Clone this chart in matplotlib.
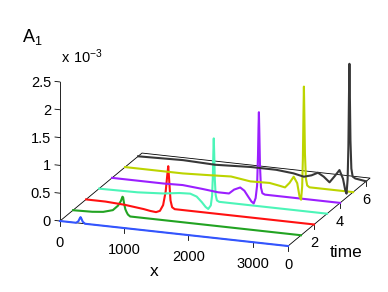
import matplotlib
matplotlib.use("Agg")
import matplotlib.pyplot as plt
import numpy as np
from mpl_toolkits.mplot3d import proj3d

plt.rcParams['font.family'] = ['Liberation Sans', 'DejaVu Sans']

# amplitude A1 is given in units of 1e-3
x_max = 3550
t_max = 6.3
z_max = 2.5

times = [0, 1, 2, 3, 4, 5, 6]
colors = ['#3355ff', '#22a322', '#ff1111', '#4cf5b8', '#9b1fff', '#bcd400', '#383838']

x_t0 = [0, 250, 285, 305, 320, 335, 355, 390, 3550]
a_t0 = [0, 0, 0.03, 0.08, 0.11, 0.08, 0.03, 0, 0]

x_t1 = [0, 300, 470, 620, 700, 745, 770, 780, 795, 815, 835, 855, 890, 3550]
a_t1 = [0, 0.01, 0.03, 0.08, 0.17, 0.26, 0.34, 0.33, 0.22, 0.12, 0.07, 0.03, 0, 0]

x_t2 = [0, 300, 600, 900, 1000, 1090, 1150, 1200, 1240, 1265, 1280, 1295, 1315, 1340, 1380, 3550]
a_t2 = [0, 0, -0.02, -0.06, -0.08, -0.09, -0.06, 0.05, 0.3, 0.6, 0.76, 0.5, 0.15, 0.03, 0, 0]

x_t3 = [0, 600, 1000, 1250, 1420, 1520, 1600, 1660, 1700, 1740, 1760, 1772, 1780, 1786, 1793, 1802,
        1815, 1835, 1870, 3550]
a_t3 = [0, 0.01, 0.04, 0.08, 0.09, 0.05, -0.04, -0.12, -0.15, -0.08, 0.1, 0.45, 0.9, 1.13, 0.85, 0.4,
        0.12, 0.02, 0, 0]

x_t4 = [0, 800, 1100, 1400, 1650, 1820, 1900, 1995, 2060, 2120, 2170, 2205, 2235, 2258, 2272, 2280,
        2286, 2293, 2303, 2318, 2340, 2380, 3550]
a_t4 = [0, 0, 0.01, -0.02, -0.05, -0.05, 0.03, 0.08, 0.03, -0.07, -0.15, -0.18, -0.08, 0.15, 0.7, 1.2,
        1.47, 1.1, 0.5, 0.12, 0.02, 0, 0]

x_t5 = [0, 900, 1300, 1650, 1950, 2250, 2400, 2490, 2560, 2625, 2680, 2715, 2740, 2757, 2768, 2777,
        2784, 2791, 2800, 2815, 2835, 2870, 3550]
a_t5 = [0, 0, 0.02, 0.04, -0.01, 0, -0.03, -0.05, 0.04, 0.16, 0.05, -0.18, -0.24, 0, 0.5, 1.3,
        1.8, 1.3, 0.6, 0.15, 0.03, 0, 0]

x_t6 = [0, 700, 1200, 1750, 2150, 2420, 2580, 2700, 2800, 2890, 2980, 3060, 3135, 3190, 3225, 3245,
        3262, 3274, 3283, 3290, 3297, 3306, 3320, 3340, 3380, 3550]
a_t6 = [0, 0.02, 0, 0.03, 0.03, 0, -0.04, 0, 0.06, 0, -0.09, 0.03, 0.15, 0, -0.2, -0.26,
        0, 0.6, 1.5, 2.08, 1.5, 0.7, 0.2, 0.06, 0.03, 0]

series_x = [x_t0, x_t1, x_t2, x_t3, x_t4, x_t5, x_t6]
series_a = [a_t0, a_t1, a_t2, a_t3, a_t4, a_t5, a_t6]

x_ticks = [0, 1000, 2000, 3000]
t_ticks = [0, 2, 4, 6]
z_ticks = [0, 0.5, 1, 1.5, 2, 2.5]
z_ticklabels = ['0', '0.5', '1', '1.5', '2', '2.5']

W, H = 388, 292
fig = plt.figure(figsize=(W / 100, H / 100), dpi=100)
ax = fig.add_axes([0, 0, 1, 1], projection='3d', proj_type='ortho', computed_zorder=False)
ax.set_xlim(0, x_max)
ax.set_ylim(0, t_max)
ax.set_zlim(0, z_max)
ax.view_init(elev=17.55, azim=-70)
aspect = (1, 0.988, 0.601)
ax.set_box_aspect(aspect)
ax.set_axis_off()


def to_screen(xs, ys, zs):
    px, py, _ = proj3d.proj_transform(np.atleast_1d(xs).astype(float), np.atleast_1d(ys).astype(float),
                                      np.atleast_1d(zs).astype(float), ax.get_proj())
    return ax.transData.transform(np.column_stack([px, py]))


# fit the projected box to the reference size and place the origin
fig.canvas.draw()
p = to_screen([0, x_max], [0, 0], [0, 0])
ax.set_box_aspect(aspect, zoom=229.4 / np.hypot(*(p[1] - p[0])))
fig.canvas.draw()
p0 = to_screen(0, 0, 0)[0]
ax.set_position([(60 - p0[0]) / W, (H - 221 - p0[1]) / H, 1, 1])
fig.canvas.draw()


def label(x, y, z, s, dx, dy, **kw):
    # text placed at the projected 3d point, shifted by (dx, dy) pixels
    px, py = to_screen(x, y, z)[0]
    fig.text((px + dx) / W, (py + dy) / H, s, **kw)


box = dict(color='black', lw=0.6, clip_on=False)
# floor outline and vertical axis
ax.plot([0, x_max, x_max, 0, 0], [0, 0, t_max, t_max, 0], [0, 0, 0, 0, 0], **box)
ax.plot([0, 0], [0, 0], [0, z_max], **box)

tick_z = 0.035 * z_max
tick_x = 0.022 * x_max
for xt in x_ticks:
    ax.plot([xt, xt], [0, 0], [0, -tick_z], **box)
    label(xt, 0, 0, str(xt), 0, -26, ha='center', va='baseline', fontsize=10.5)
for tt in t_ticks:
    ax.plot([x_max, x_max], [tt, tt], [0, -tick_z], **box)
    label(x_max, tt, 0, str(tt), 0, -23, ha='center', va='baseline', fontsize=10.5)
for zt, lab in zip(z_ticks, z_ticklabels):
    ax.plot([0, -tick_x], [0, 0], [zt, zt], **box)
    label(0, 0, zt, lab, -9, -5, ha='right', va='baseline', fontsize=10.5)

for t, xs, a_vals, c in zip(times, series_x, series_a, colors):
    ax.plot(xs, [t] * len(xs), a_vals, color=c, lw=1.5, solid_joinstyle='round', clip_on=False)

label(x_max / 2, 0, 0, 'x', -19.5, -42.5, ha='center', va='baseline', fontsize=12.5)
label(x_max, t_max / 2, 0, 'time', 17.5, -44.5, ha='center', va='baseline', fontsize=12.5)
label(0, 0, z_max, r'$\mathregular{A_1}$', -37.5, 40, ha='left', va='baseline', fontsize=13)
label(0, 0, z_max, r'$\mathregular{x\ 10^{-3}}$', 1, 19, ha='left', va='baseline', fontsize=10.5)

fig.savefig('out.png', dpi=100)
